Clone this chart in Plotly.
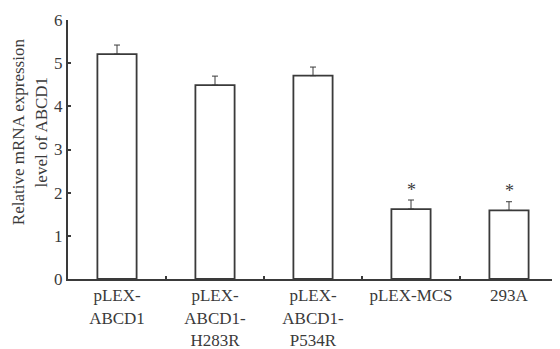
import plotly.graph_objects as go

categories = ["pLEX-<br>ABCD1", "pLEX-<br>ABCD1-<br>H283R", "pLEX-<br>ABCD1-<br>P534R", "pLEX-MCS", "293A"]
values = [5.21, 4.49, 4.71, 1.62, 1.59]
errors = [0.21, 0.21, 0.2, 0.21, 0.2]
significant = [False, False, False, True, True]
y_title = "Relative mRNA expression<br>level of ABCD1"

dark = "#3a3a3a"
fam = "Liberation Serif, Times New Roman, serif"
ytick_font = dict(family=fam, size=17, color=dark)
xtick_font = dict(family=fam, size=17, color=dark)
title_font = dict(family=fam, size=17, color=dark)

fig = go.Figure()
fig.add_trace(go.Bar(
    x=categories, y=values, width=0.4,
    marker=dict(color="white", line=dict(color=dark, width=1.8)),
    error_y=dict(type="data", array=errors, arrayminus=[0]*len(errors), symmetric=False,
                 color=dark, thickness=1, width=3),
))
for c, v, e, s in zip(categories, values, errors, significant):
    if s:
        fig.add_annotation(x=c, y=v + e + 0.24, text="*", showarrow=False,
                           font=dict(family=fam, size=18, color=dark))

fig.add_annotation(xref="paper", yref="paper", x=-0.078, y=0.57, text=y_title,
                   textangle=-90, showarrow=False, xanchor="center", yanchor="middle",
                   font=title_font)

# page body has an 8px margin, so the figure is sized/offset to fit the 560x349 window
fig.update_layout(
    width=552, height=341,
    margin=dict(l=60, r=2, t=12, b=70),
    paper_bgcolor="white", plot_bgcolor="white",
    font=ytick_font, showlegend=False,
)
fig.update_xaxes(
    type="category", showline=True, linecolor=dark, linewidth=2,
    ticks="inside", tickson="boundaries", ticklen=3, tickcolor=dark, tickwidth=1.5,
    showgrid=False, tickfont=xtick_font, automargin=False,
)
fig.update_yaxes(
    range=[0, 6], dtick=1, showline=True, linecolor=dark, linewidth=2,
    ticks="inside", ticklen=3, tickcolor=dark, tickwidth=1.5,
    showgrid=False, zeroline=False, tickfont=ytick_font, automargin=False,
)
fig.write_html("out.html")
